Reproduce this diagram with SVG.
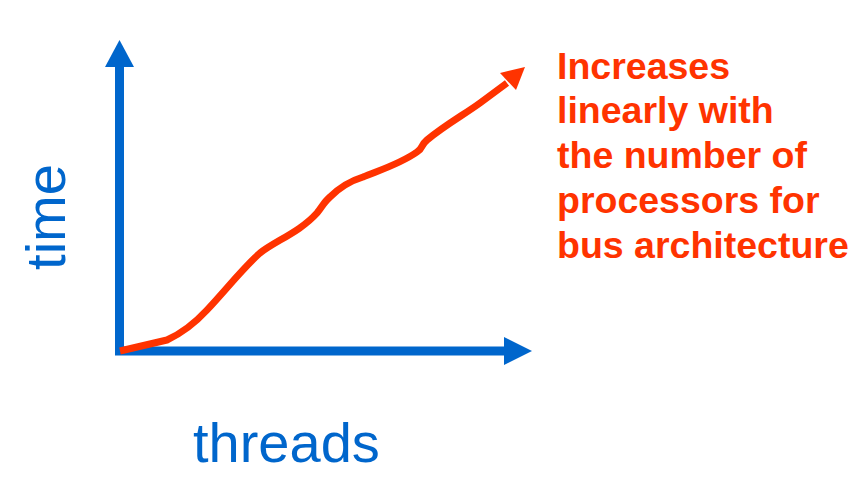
<svg xmlns="http://www.w3.org/2000/svg" width="859" height="500" viewBox="0 0 859 500">
<style>
.axis{stroke:#0066CC;stroke-width:9;fill:none}
.head{fill:#0066CC}
.lbl{font-family:"Liberation Sans",Arial,sans-serif;font-size:56px;fill:#0066CC}
.note{font-family:"Liberation Sans",Arial,sans-serif;font-size:37.5px;font-weight:bold;fill:#FF3300}
.curve{stroke:#FF3300;stroke-width:7;fill:none;stroke-linecap:butt;stroke-linejoin:round}
</style>
<rect width="859" height="500" fill="#fff"/>
<g id="connectors">
<line class="axis" x1="119.5" y1="66" x2="119.5" y2="355"/>
<polygon class="head" points="119.5,40 105,67 134,67"/>
<line class="axis" x1="115" y1="351" x2="506" y2="351"/>
<polygon class="head" points="532,351 504,337 504,365"/>
<path class="curve" d="M120,351 L167,340 C180,334 195,323 207,310 C225,291 243,268 260,253 C275,241 300,232 317,213 C322,207 324,202 330,197 C340,187 350,181 363,177 C380,170 400,164 417,152 C424,147 420,146 427,140 C445,125 465,114 480,103 L507,83"/>
<polygon fill="#FF3300" points="525,67 500,73 516,90"/>
</g>
<g id="time"><text class="lbl" transform="translate(65,217) rotate(-90)" text-anchor="middle">time</text></g>
<g id="threads"><text class="lbl" x="193" y="462">threads</text></g>
<g id="note">
<text class="note" x="557" y="79">Increases</text>
<text class="note" x="557" y="123">linearly with</text>
<text class="note" x="557" y="168">the number of</text>
<text class="note" x="557" y="213">processors for</text>
<text class="note" x="557" y="258">bus architecture</text>
</g>
</svg>
